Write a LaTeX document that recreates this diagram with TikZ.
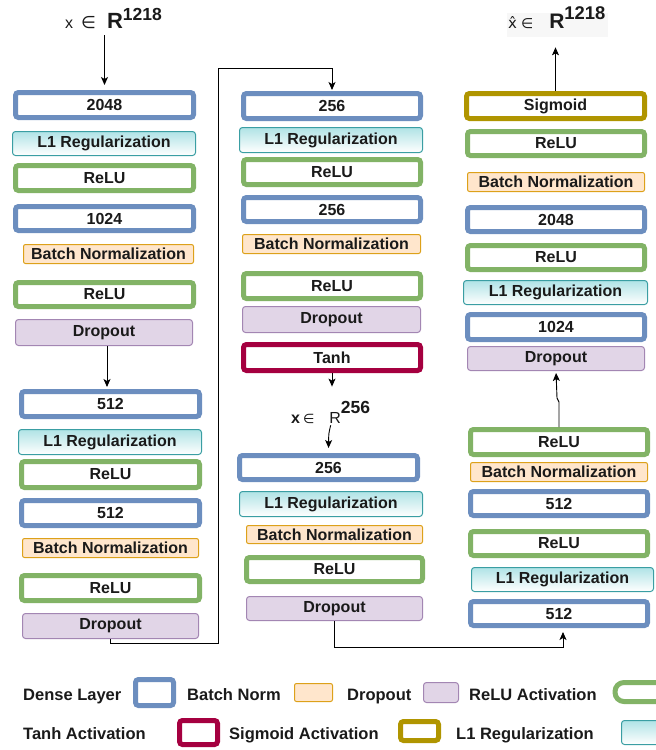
\documentclass[tikz,border=0pt]{standalone}
\usepackage{fontspec}
\setmainfont{Liberation Sans}
\newfontfamily\symf{DejaVu Sans}
\usetikzlibrary{arrows.meta}
\definecolor{blueC}{HTML}{6C8EBF}
\definecolor{greenC}{HTML}{82B366}
\definecolor{crimC}{HTML}{A50040}
\definecolor{oliveC}{HTML}{B09500}
\definecolor{orS}{HTML}{DDA11A}
\definecolor{orF}{HTML}{FFE6CC}
\definecolor{puS}{HTML}{A386B3}
\definecolor{puF}{HTML}{E1D5E7}
\definecolor{teS}{HTML}{3A9EA3}
\definecolor{teF}{HTML}{B0E3E6}
\definecolor{txt}{HTML}{1A1A1A}
\newcommand\lab{\bfseries\fontsize{16}{16}\selectfont}
\newcommand\legf{\bfseries\fontsize{16.5}{18}\selectfont}
\newcommand\bx[8]{\node[#2, minimum width={(#5-#3-#8)*1pt}, minimum height={(#6-#4-#8)*1pt}] (#1) at ({(#3+#5)/2},{(#4+#6)/2}) {#7};}
\tikzset{
  base/.style={rounded corners=3pt, inner sep=0pt, font=\lab, text=txt, align=center},
  dense/.style={base, draw=blueC, line width=5pt, fill=white},
  relu/.style={base, draw=greenC, line width=5pt, fill=white},
  tanhb/.style={base, draw=crimC, line width=5pt, fill=white},
  sigb/.style={base, draw=oliveC, line width=5pt, fill=white},
  bnb/.style={base, draw=orS, fill=orF, line width=1pt, rounded corners=2pt},
  dropb/.style={base, draw=puS, fill=puF, line width=1pt},
  lone/.style={base, draw=teS, top color=teF, bottom color=white, line width=1pt},
  arr/.style={-{Stealth[length=8pt,width=7pt,inset=2pt]}, line width=0.9pt, draw=black},
  leg/.style={anchor=base west, inner sep=0pt, font=\legf, text=txt},
}
\begin{document}
\begin{tikzpicture}[x=1pt,y=-1pt]
\useasboundingbox (0,0) rectangle (656,750);
\clip (0,0) rectangle (656,750);
% column 1
\bx{d1a}{dense}{13}{90}{196}{120}{2048}{5}
\bx{l1a}{lone}{12}{131}{196}{156}{L1 Regularization}{1}
\bx{r1a}{relu}{13}{163}{196}{193}{ReLU}{5}
\bx{d1b}{dense}{13}{204}{196}{233}{1024}{5}
\bx{b1a}{bnb}{23}{244}{194}{264}{Batch Normalization}{1}
\bx{r1b}{relu}{13}{280}{196}{309}{ReLU}{5}
\bx{o1a}{dropb}{15}{319}{193}{346}{Dropout}{1}
\bx{d1c}{dense}{19}{389}{202}{419}{512}{5}
\bx{l1b}{lone}{18}{429}{202}{455}{L1 Regularization}{1}
\bx{r1c}{relu}{19}{459}{202}{490}{ReLU}{5}
\bx{d1d}{dense}{19}{498}{202}{528}{512}{5}
\bx{b1b}{bnb}{22}{538}{199}{558}{Batch Normalization}{1}
\bx{r1d}{relu}{19}{573}{202}{603}{ReLU}{5}
\bx{o1b}{dropb}{22}{613}{199}{639}{Dropout}{1}
% column 2
\bx{d2a}{dense}{241}{91}{423}{121}{256}{5}
\bx{l2a}{lone}{239}{127}{423}{153}{L1 Regularization}{1}
\bx{r2a}{relu}{241}{157}{423}{187}{ReLU}{5}
\bx{d2b}{dense}{241}{195}{423}{224}{256}{5}
\bx{b2a}{bnb}{242}{234}{421}{254}{Batch Normalization}{1}
\bx{r2b}{relu}{241}{271}{423}{301}{ReLU}{5}
\bx{o2a}{dropb}{242}{306}{421}{333}{Dropout}{1}
\bx{t2}{tanhb}{241}{342}{423}{373}{Tanh}{5}
\bx{d2c}{dense}{237}{453}{420}{482}{256}{5}
\bx{l2b}{lone}{239}{491}{423}{517}{L1 Regularization}{1}
\bx{b2b}{bnb}{246}{525}{423}{544}{Batch Normalization}{1}
\bx{r2c}{relu}{244}{555}{425}{584}{ReLU}{5}
\bx{o2b}{dropb}{246}{596}{423}{621}{Dropout}{1}
% column 3
\bx{s3}{sigb}{464}{91}{647}{121}{Sigmoid}{5}
\bx{r3a}{relu}{465}{129}{647}{158}{ReLU}{5}
\bx{b3a}{bnb}{467}{172}{645}{192}{Batch Normalization}{1}
\bx{d3a}{dense}{465}{205}{647}{234}{2048}{5}
\bx{r3b}{relu}{465}{243}{647}{272}{ReLU}{5}
\bx{l3a}{lone}{463}{280}{648}{305}{L1 Regularization}{1}
\bx{d3b}{dense}{465}{312}{647}{342}{1024}{5}
\bx{o3a}{dropb}{467}{346}{645}{371}{Dropout}{1}
\bx{r3c}{relu}{468}{427}{650}{457}{ReLU}{5}
\bx{b3b}{bnb}{470}{462}{648}{482}{Batch Normalization}{1}
\bx{d3c}{dense}{468}{489}{650}{518}{512}{5}
\bx{r3d}{relu}{468}{529}{650}{558}{ReLU}{5}
\bx{l3b}{lone}{471}{567}{654}{592}{L1 Regularization}{1}
\bx{d3d}{dense}{468}{599}{650}{628}{512}{5}
% labels
\node[anchor=base west, inner sep=0pt, text=txt] (xin) at (65,28)
  {\fontsize{16}{16}\selectfont x\hspace{8pt}{\symf\fontsize{17}{17}\selectfont ∈}\hspace{11pt}{\fontsize{22}{22}\selectfont\bfseries R}\raisebox{8pt}{\fontsize{17.5}{18}\selectfont\bfseries 1218}};
\node[anchor=base west, inner sep=0pt, text=txt] (z) at (291,423)
  {\fontsize{16}{16}\selectfont\bfseries x\hspace{3pt}{\symf\mdseries\fontsize{13}{13}\selectfont ∈}\hspace{15pt}\mdseries R\raisebox{10pt}{\fontsize{17.5}{18}\selectfont\bfseries 256}};
\fill[black!3] (507,13) rectangle (608,37);
\node[anchor=base west, inner sep=0pt, text=txt] (xh) at (508,28)
  {{\symf\fontsize{15}{15}\selectfont x\char"0302\hspace{4pt}\fontsize{14}{14}\selectfont ∈}\hspace{16pt}{\fontsize{21}{21}\selectfont\bfseries R}\raisebox{9pt}{\fontsize{18.4}{19}\selectfont\bfseries 1218}};
% connectors
\coordinate (c1) at (218,643);
\coordinate (c2) at (218,68);
\coordinate (c3) at (563,647);
\draw[arr, shorten <=7pt, shorten >=5pt] (d1a.north |- xin.south) -- (d1a.north);
\draw[arr, shorten >=2pt] (o1a.south -| 107,0) -- (d1c.north -| 107,0);
\draw[arr, shorten >=1pt] (o1b.south) |- (c1) -- (c2) -| (d2a.north);
\draw[arr, shorten >=14pt] (t2.south) -- (t2.south |- z.north);
\draw[arr, shorten >=5pt] ([yshift=-2pt]z.south) .. controls +(-2,8) .. (d2c.north);
\draw[arr, shorten >=4pt] (o2b.south) |- (c3) -- (c3 |- d3d.south);
\draw[arr, shorten >=2pt] (r3c.north) -- ++(0,-25) -- ++(-2,-4) -- (o3a.south);
\draw[arr, shorten >=19pt] (s3.north) -- (s3.north |- xh.south);
% legend
\node[leg] (tdense) at (23,700) {Dense Layer};
\bx{gdense}{dense}{133}{677}{176}{708}{}{5}
\node[leg] (tbn) at (187,700) {Batch Norm};
\bx{gbn}{bnb}{294}{683}{333}{702}{}{1}
\node[leg] (tdrop) at (347,700) {Dropout};
\bx{gdrop}{dropb}{423}{682}{459}{703}{}{1}
\node[leg] (trelu) at (469,700) {ReLU Activation};
\node[relu, rounded corners=9pt, minimum width=62pt, minimum height=19pt] (grelu) at (646,692) {};
\node[leg] (ttanh) at (23,739) {Tanh Activation};
\bx{gtanh}{tanhb}{177}{718}{220}{747}{}{5}
\node[leg] (tsig) at (229,739) {Sigmoid Activation};
\bx{gsig}{sigb}{398}{719}{441}{743}{}{5}
\node[leg] (tl1) at (456,739) {L1 Regularization};
\bx{gl1}{lone}{621}{720}{670}{745}{}{1}
\end{tikzpicture}
\end{document}
